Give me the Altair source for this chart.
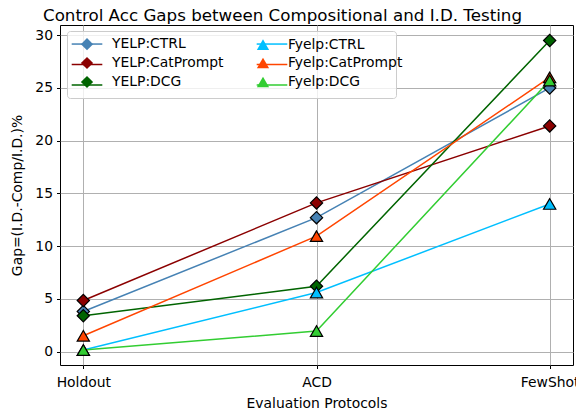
import altair as alt
import pandas as pd

categories = ["Holdout", "ACD", "FewShot"]
series = ["YELP:CTRL", "YELP:CatPrompt", "YELP:DCG", "Fyelp:CTRL", "Fyelp:CatPrompt", "Fyelp:DCG"]
yelp_ctrl = [3.8, 12.7, 25.0]
yelp_catprompt = [4.85, 14.1, 21.4]
yelp_dcg = [3.4, 6.2, 29.5]
fyelp_ctrl = [0.15, 5.6, 14.0]
fyelp_catprompt = [1.5, 10.95, 26.0]
fyelp_dcg = [0.15, 1.95, 25.7]
colors = ["#4682b4", "#8b0000", "#006400", "#00bfff", "#ff4500", "#32cd32"]
shapes = ["diamond", "diamond", "diamond", "triangle-up", "triangle-up", "triangle-up"]
y_ticks = [0, 5, 10, 15, 20, 25, 30]

values = [yelp_ctrl, yelp_catprompt, yelp_dcg, fyelp_ctrl, fyelp_catprompt, fyelp_dcg]
rows = []
for s, vals in zip(series, values):
    for c, v in zip(categories, vals):
        rows.append({"protocol": c, "series": s, "gap": v, "order": categories.index(c)})
df = pd.DataFrame(rows)

FONT = "DejaVu Sans"

x_enc = alt.X("protocol:O", sort=categories,
              scale=alt.Scale(type="point", padding=0.1),
              axis=alt.Axis(title="Evaluation Protocols", labelAngle=0))
y_enc = alt.Y("gap:Q", scale=alt.Scale(domain=[-1.27, 30.97], nice=False, zero=False),
              axis=alt.Axis(title="Gap=(I.D.-Comp/I.D.)%", values=y_ticks))

# legend drawn first: frame + line segments (its labels are invisible spacers)
line_legend = alt.Legend(orient="none", legendX=7, legendY=6, columns=2, title=None,
                         gridAlign="each", symbolType="M-2.5,0H2.5", symbolSize=150,
                         symbolStrokeWidth=1.5, symbolOffset=7,
                         labelExpr="'" + "i" * 28 + "'", labelFont=FONT, labelFontSize=13.9,
                         labelColor="rgba(0,0,0,0)", labelOffset=2,
                         padding=6, rowPadding=6.5, columnPadding=48,
                         fillColor="rgba(255,255,255,0.8)", strokeColor="#cccccc",
                         cornerRadius=3)

lines = alt.Chart(df).mark_line(strokeWidth=1.5).encode(
    x=x_enc, y=y_enc,
    order="order:Q",
    color=alt.Color("series:N", sort=series,
                    scale=alt.Scale(domain=series, range=colors),
                    legend=line_legend),
)

pt_legend = alt.Legend(orient="none", legendX=16, legendY=8, columns=2, title=None,
                       gridAlign="each", symbolSize=150,
                       symbolStrokeColor="black", symbolStrokeWidth=1.2,
                       labelFont=FONT, labelFontSize=13.9, labelColor="black",
                       labelOffset=18, padding=4, rowPadding=1, columnPadding=30)

points = alt.Chart(df).mark_point(filled=True, stroke="black", strokeWidth=1.2, opacity=1, size=150).encode(
    x=x_enc, y=y_enc,
    fill=alt.Fill("series:N", sort=series,
                  scale=alt.Scale(domain=series, range=colors),
                  legend=pt_legend),
    shape=alt.Shape("series:N", sort=series,
                    scale=alt.Scale(domain=series, range=shapes),
                    legend=pt_legend),
)

chart = alt.layer(lines, points).resolve_scale(
    color="independent", fill="independent", shape="independent"
).properties(
    width=513, height=340,
    title=alt.Title("Control Acc Gaps between Compositional and I.D. Testing",
                    fontSize=16.7, font=FONT, fontWeight="normal", color="black",
                    anchor="middle", dx=-34, offset=0),
    autosize=alt.AutoSizeParams(type="none"),
    padding={"left": 52, "top": 17, "right": 3, "bottom": 48},
).configure_view(stroke="black", strokeWidth=1).configure_axis(
    grid=True, gridColor="#b0b0b0", gridWidth=1, domain=False,
    tickColor="black", tickSize=3.5, tickWidth=1,
    labelFont=FONT, labelFontSize=13.9, labelColor="black",
    titleFont=FONT, titleFontSize=13.9, titleColor="black", titleFontWeight="normal",
    labelPadding=7,
).configure_axisX(titlePadding=7).configure_axisY(titlePadding=10, labelPadding=4)

chart.save("out.html", embed_options={"renderer": "svg", "actions": False})
